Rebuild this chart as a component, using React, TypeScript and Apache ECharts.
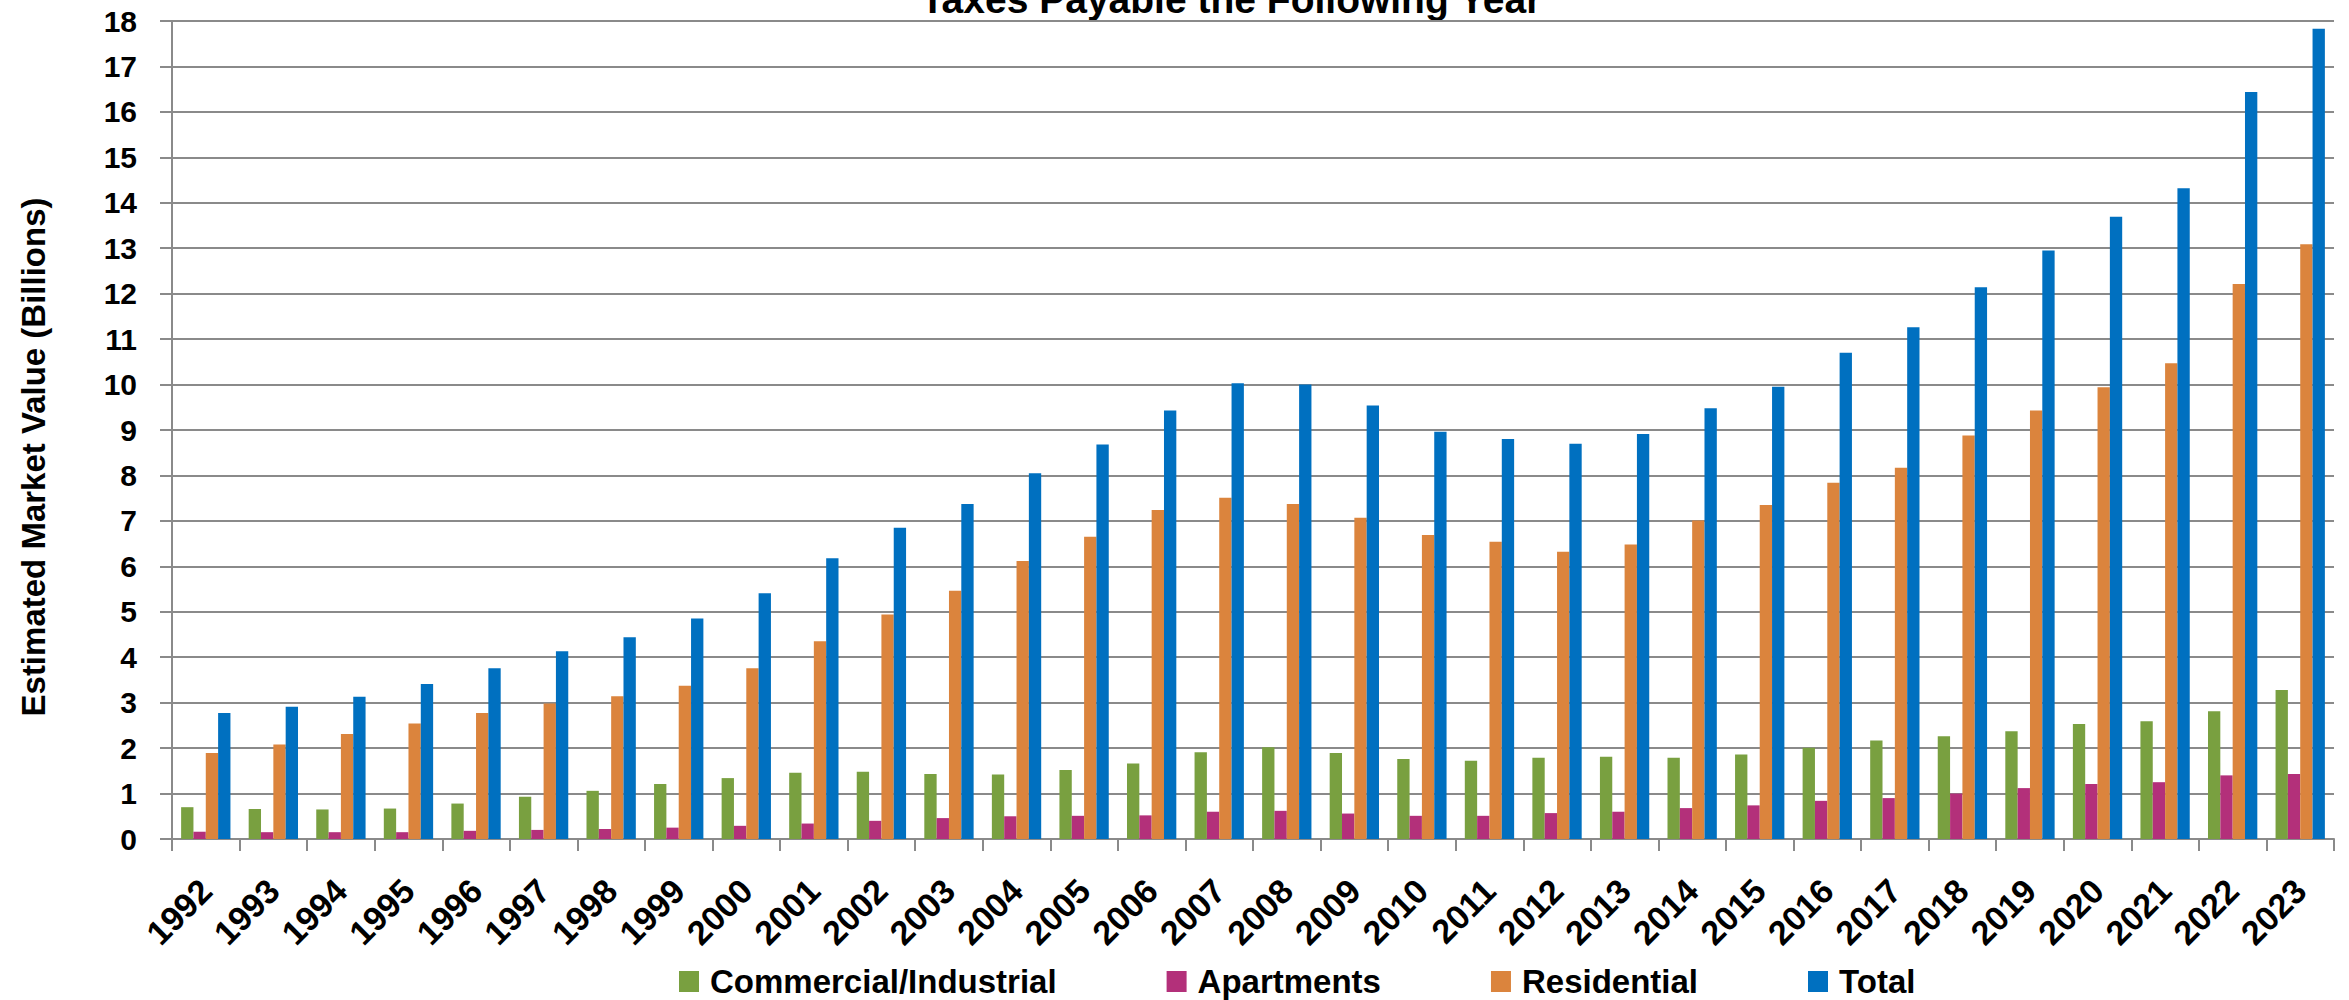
import React, { useEffect, useRef } from "react";
import * as echarts from "echarts";

const years = [
  "1992", "1993", "1994", "1995", "1996", "1997", "1998", "1999", "2000", "2001", "2002",
  "2003", "2004", "2005", "2006", "2007", "2008", "2009", "2010", "2011", "2012", "2013",
  "2014", "2015", "2016", "2017", "2018", "2019", "2020", "2021", "2022", "2023",
];

const commercial = [
  0.7, 0.66, 0.65, 0.67, 0.78, 0.93, 1.06, 1.21, 1.34, 1.46, 1.48, 1.43, 1.42, 1.52, 1.66, 1.91,
  2.02, 1.89, 1.76, 1.72, 1.79, 1.81, 1.79, 1.86, 2.01, 2.17, 2.26, 2.37, 2.53, 2.59, 2.81, 3.28,
];

const apartments = [
  0.16, 0.15, 0.15, 0.15, 0.18, 0.2, 0.22, 0.25, 0.29, 0.34, 0.4, 0.46, 0.5, 0.51, 0.52, 0.6,
  0.62, 0.56, 0.51, 0.51, 0.57, 0.6, 0.68, 0.74, 0.84, 0.9, 1.0, 1.12, 1.21, 1.25, 1.4, 1.43,
];

const residential = [
  1.89, 2.08, 2.31, 2.54, 2.77, 2.98, 3.14, 3.37, 3.76, 4.35, 4.94, 5.46, 6.12, 6.65, 7.24, 7.51,
  7.37, 7.07, 6.69, 6.54, 6.32, 6.48, 7.01, 7.35, 7.84, 8.17, 8.88, 9.43, 9.94, 10.47, 12.21, 13.09,
];

const total = [
  2.77, 2.91, 3.13, 3.41, 3.76, 4.13, 4.44, 4.85, 5.41, 6.18, 6.85, 7.37, 8.05, 8.68, 9.43, 10.03,
  10.0, 9.54, 8.96, 8.8, 8.7, 8.91, 9.48, 9.95, 10.7, 11.26, 12.14, 12.95, 13.69, 14.32, 16.44, 17.83,
];

const seriesNames = ["Commercial/Industrial", "Apartments", "Residential", "Total"];
const seriesColors = ["#79A040", "#B3307A", "#DB843D", "#0070C0"];
const seriesData = [commercial, apartments, residential, total];

const titleText = "Taxes Payable the Following Year";
const yAxisTitle = "Estimated Market Value (Billions)";

const FONT = "'Liberation Sans', Arial, sans-serif";

export default function App() {
  const ref = useRef<HTMLDivElement>(null);

  useEffect(() => {
    if (!ref.current) return;
    const chart = echarts.init(ref.current, undefined, { renderer: "svg" });
    chart.setOption({
      animation: false,
      backgroundColor: "#ffffff",
      textStyle: { fontFamily: FONT },
      grid: { left: 172, right: 15, top: 21, bottom: 161, containLabel: false },
      legend: {
        left: 679,
        top: 965,
        padding: 0,
        itemWidth: 20,
        itemHeight: 21,
        itemGap: 110,
        icon: "rect",
        data: seriesNames,
        textStyle: {
          fontFamily: FONT,
          fontWeight: "bold",
          fontSize: 33,
          color: "#000",
          padding: [0, 0, 0, 6],
        },
      },
      graphic: [
        {
          type: "text",
          x: 1231,
          y: -1,
          style: {
            text: titleText,
            fill: "#000",
            font: `bold 39px ${FONT}`,
            align: "center",
            verticalAlign: "middle",
          },
        },
        {
          type: "text",
          x: 33,
          y: 457,
          rotation: Math.PI / 2,
          style: {
            text: yAxisTitle,
            fill: "#000",
            font: `bold 33px ${FONT}`,
            align: "center",
            verticalAlign: "middle",
          },
        },
      ],
      xAxis: {
        type: "category",
        data: years,
        boundaryGap: true,
        axisLine: { lineStyle: { color: "#8a8a8a", width: 2 } },
        axisTick: { show: true, length: 12, inside: false, alignWithLabel: false, lineStyle: { color: "#8a8a8a", width: 2 } },
        axisLabel: {
          interval: 0,
          rotate: 45,
          margin: 46,
          color: "#000",
          fontFamily: FONT,
          fontWeight: "bold",
          fontSize: 34,
        },
      },
      yAxis: {
        type: "value",
        min: 0,
        max: 18,
        interval: 1,
        axisLine: { show: true, lineStyle: { color: "#8a8a8a", width: 2 } },
        axisTick: { show: true, length: 12, lineStyle: { color: "#8a8a8a", width: 2 } },
        splitLine: { show: true, lineStyle: { color: "#8a8a8a", width: 2 } },
        axisLabel: {
          margin: 35,
          color: "#000",
          fontFamily: FONT,
          fontWeight: "bold",
          fontSize: 30,
        },
      },
      series: seriesNames.map((name, i) => ({
        name,
        type: "bar",
        data: seriesData[i],
        barGap: "0%",
        barCategoryGap: "27%",
        itemStyle: { color: seriesColors[i] },
      })),
    });
    return () => chart.dispose();
  }, []);

  return (
    <div
      ref={ref}
      style={{ position: "absolute", left: 0, top: 0, width: 2349, height: 1000 }}
    />
  );
}
